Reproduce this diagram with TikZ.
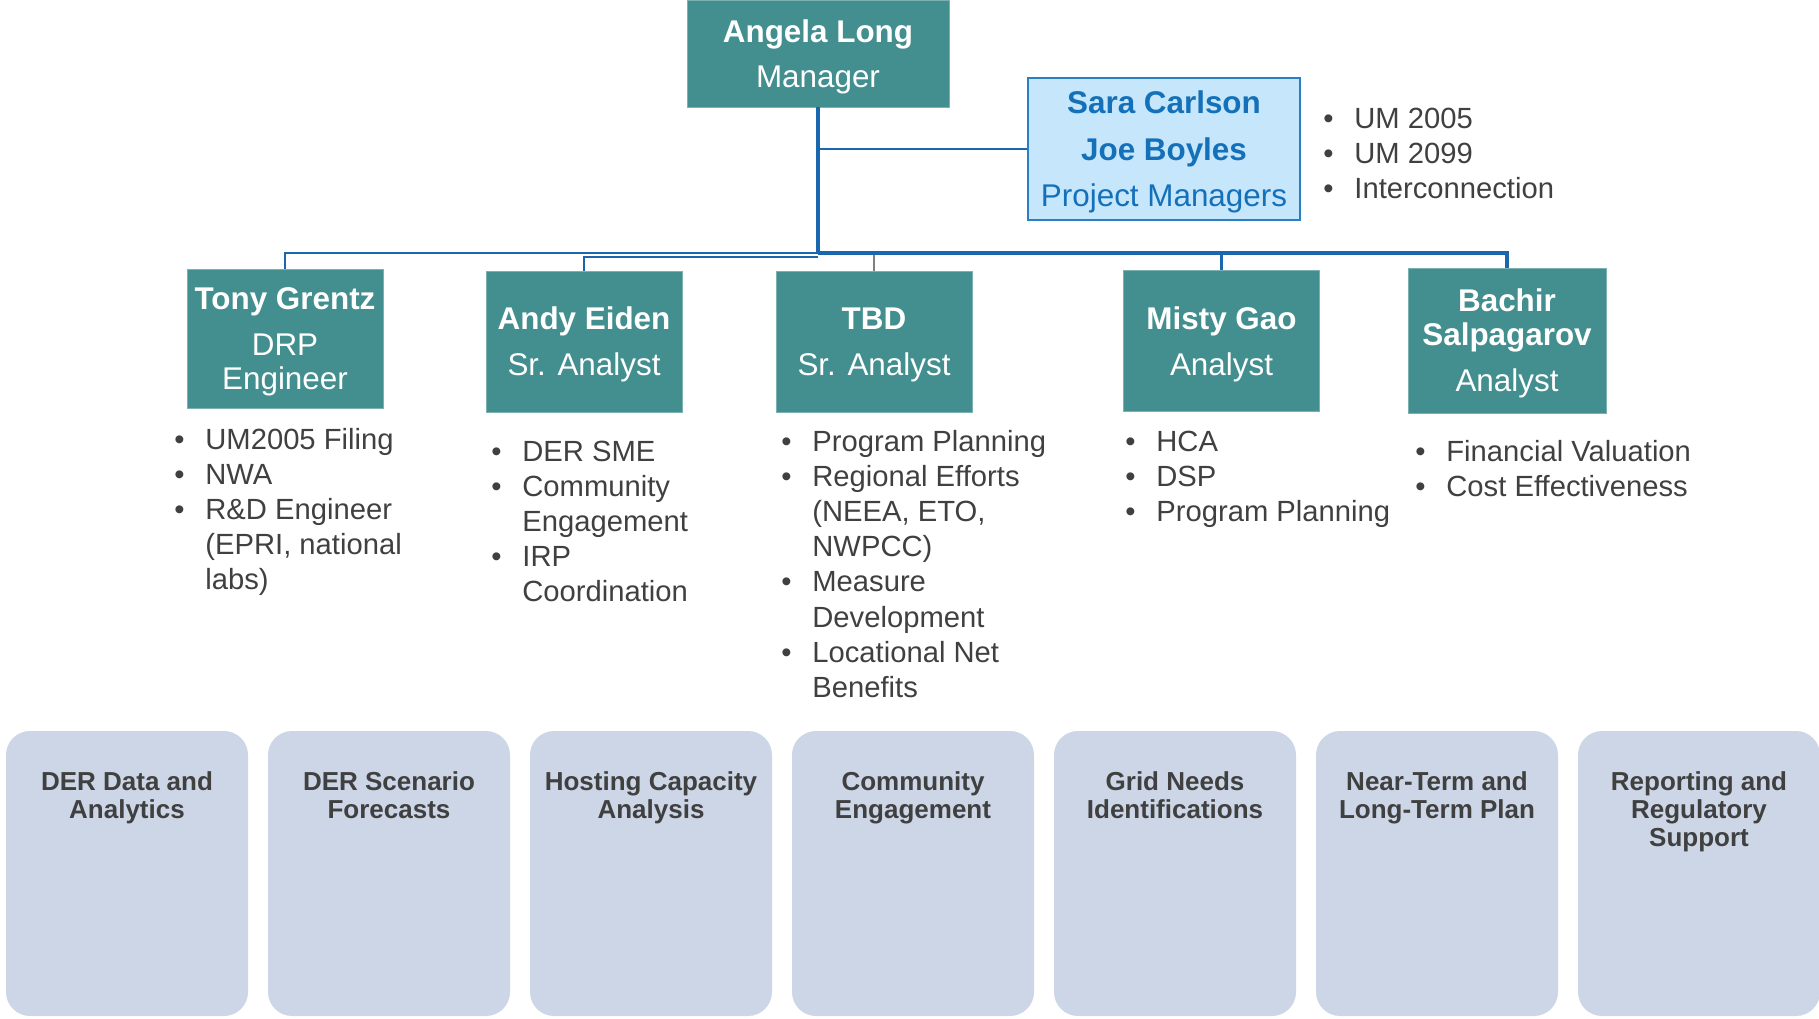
\documentclass[tikz,border=0pt]{standalone}
\usepackage{fontspec}
\setmainfont{Liberation Sans}
\usetikzlibrary{positioning}
\definecolor{boxteal}{HTML}{438F8F}
\definecolor{linkblue}{HTML}{1B67AD}
\definecolor{pmfill}{HTML}{C6E6FB}
\definecolor{pmline}{HTML}{2A7EC4}
\definecolor{pmtext}{HTML}{1470B8}
\definecolor{textgray}{HTML}{404040}
\definecolor{areablue}{HTML}{CCD6E6}
\newcommand{\bl}{\makebox[15.5pt][l]{\textbullet}}
\newcommand{\ind}{\hspace*{15.5pt}}
\newcommand{\lift}{\rule{0pt}{14.5pt}}

\begin{document}
\begin{tikzpicture}[x=0.5pt,y=-0.5pt,
    person/.style={fill=boxteal,draw=boxteal!70!white,line width=0.4pt,text=white,inner sep=0pt,align=center,
      minimum width=98pt,minimum height=70.5pt,font=\fontsize{15.7}{17}\selectfont},
    duty/.style={anchor=north west,inner sep=0pt,align=left,text=textgray,font=\fontsize{14.6}{17.6}\selectfont},
    area/.style={fill=areablue,rounded corners=12pt,minimum width=121pt,minimum height=142.5pt,inner sep=0pt},
    areatext/.style={anchor=north,inner sep=0pt,align=center,text=textgray,font=\bfseries\fontsize{13}{14}\selectfont},
    link/.style={draw=linkblue,line width=1.2pt},
    trunk/.style={draw=linkblue,line width=2pt}]
  \useasboundingbox (0,0) rectangle (1819,1018);

  \node[person,minimum width=131pt,minimum height=53.5pt] (angela) at (818,53.5) {\lift\textbf{Angela Long}\\[5.5pt]Manager};
  \node[fill=pmfill,draw=pmline,line width=1pt,text=pmtext,inner sep=0pt,align=center,minimum width=136pt,minimum height=71pt,
    font=\fontsize{15.7}{17}\selectfont] (sara) at (1164,149) {\lift\textbf{Sara Carlson}\\[6.25pt]\textbf{Joe Boyles}\\[6.25pt]Project Managers};
  \node[duty] (saraduty) at (1323,103) {\strut\bl UM 2005\\\bl UM 2099\\\bl Interconnection};

  \node[person,minimum height=69.5pt] (tony) at (285,338.5) {\lift\textbf{Tony Grentz}\\[6pt]DRP\\Engineer};
  \node[person] (andy) at (584,341.5) {\lift\textbf{Andy Eiden}\\[6pt]Sr. Analyst};
  \node[person] (tbd) at (874,341.5) {\lift\textbf{TBD}\\[6pt]Sr. Analyst};
  \node[person] (misty) at (1221.5,341) {\lift\textbf{Misty Gao}\\[6pt]Analyst};
  \node[person,minimum width=99pt,minimum height=72.5pt] (bachir) at (1507,340.5) {\lift\textbf{Bachir}\\\textbf{Salpagarov}\\[6pt]Analyst};

  \node[duty] (tonyduty) at (174,424) {\strut\bl UM2005 Filing\\\bl NWA\\\bl R\&D Engineer\\\ind(EPRI, national\\\ind labs)};
  \node[duty] (andyduty) at (491,436) {\strut\bl DER SME\\\bl Community\\\ind Engagement\\\bl IRP\\\ind Coordination};
  \node[duty] (tbdduty) at (781,426) {\strut\bl Program Planning\\\bl Regional Efforts\\\ind(NEEA, ETO,\\\ind NWPCC)\\\bl Measure\\\ind Development\\\bl Locational Net\\\ind Benefits};
  \node[duty] (mistyduty) at (1125,426) {\strut\bl HCA\\\bl DSP\\\bl Program Planning};
  \node[duty] (bachirduty) at (1415,436) {\strut\bl Financial Valuation\\\bl Cost Effectiveness};

  % reporting lines
  \coordinate (hub) at (818,253);
  \draw[trunk] (angela.south) -- (hub);
  \draw[link] (angela.south |- sara.west) -- (sara.west);
  \draw[link] (hub) -- (hub -| tony.north) -- (tony.north);
  \draw[link] ([yshift=-2pt]hub) -| (andy.north);
  \draw[gray,line width=0.6pt] (hub -| tbd.north) -- (tbd.north);
  \draw[link] (hub -| misty.north) -- (misty.north);
  \draw[trunk] (hub) -| (bachir.north);

  % work areas
  \foreach \i/\name in {1/{DER Data and\\Analytics},2/{DER Scenario\\Forecasts},3/{Hosting Capacity\\Analysis},
      4/{Community\\Engagement},5/{Grid Needs\\Identifications},6/{Near-Term and\\Long-Term Plan},
      7/{Reporting and\\Regulatory\\Support}} {
    \node[area] (area\i) at (127+262*\i-262,873.5) {};
    \node[areatext] (area\i text) at ([yshift=-20pt]area\i.north) {\strut\name};
  }
\end{tikzpicture}
\end{document}
